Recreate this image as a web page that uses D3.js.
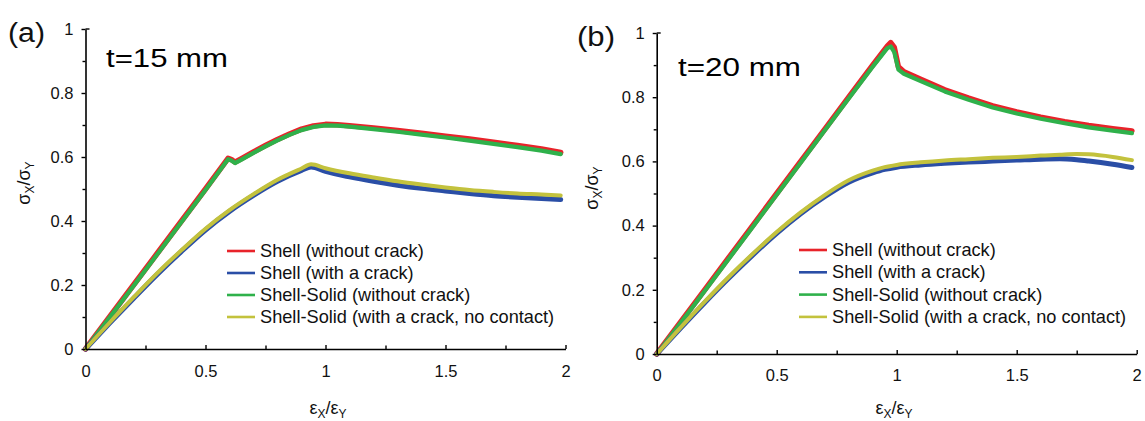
<!DOCTYPE html>
<html>
<head>
<meta charset="utf-8">
<script src="https://cdn.jsdelivr.net/npm/d3@7"></script>
<style>
html,body{margin:0;padding:0;background:#fff;}
svg{display:block;font-family:"Liberation Sans",Arial,sans-serif;}
</style>
</head>
<body>
<svg id="chart" width="1145" height="421"></svg>
<script>
// ---------- data ----------
const seriesNames = ["Shell (without crack)", "Shell (with a crack)", "Shell-Solid (without crack)", "Shell-Solid (with a crack, no contact)"];
const seriesColors = ["#e8232a", "#2a4ea6", "#2fb14b", "#c3c23d"];
const xTickValues = [0, 0.5, 1, 1.5, 2];
const xTickLabels = ["0", "0.5", "1", "1.5", "2"];
const yTickValues = [0, 0.2, 0.4, 0.6, 0.8, 1];
const yTickLabels = ["0", "0.2", "0.4", "0.6", "0.8", "1"];
const panelLetters = ["(a)", "(b)"];
const panelTitles = ["t=15 mm", "t=20 mm"];

// panel (a) t=15 mm
const a_noCrack_x = [0, 0.1, 0.2, 0.3, 0.4, 0.5, 0.594, 0.608, 0.623, 0.65, 0.7, 0.75, 0.8, 0.85, 0.9, 0.95, 1.0, 1.05, 1.1, 1.2, 1.3, 1.4, 1.5, 1.6, 1.7, 1.8, 1.9, 1.98];
const a_shell_noCrack_y = [0, 0.1, 0.2, 0.3, 0.4, 0.5, 0.596, 0.592, 0.584, 0.595, 0.616, 0.636, 0.655, 0.672, 0.687, 0.697, 0.702, 0.701, 0.698, 0.691, 0.683, 0.674, 0.665, 0.656, 0.646, 0.636, 0.625, 0.614];
const a_solid_noCrack_y = [0, 0.098, 0.197, 0.297, 0.397, 0.497, 0.593, 0.589, 0.581, 0.592, 0.613, 0.633, 0.652, 0.669, 0.684, 0.694, 0.699, 0.698, 0.695, 0.687, 0.679, 0.670, 0.661, 0.651, 0.641, 0.631, 0.620, 0.609];
const a_crack_x = [0, 0.1, 0.2, 0.3, 0.4, 0.5, 0.6, 0.7, 0.8, 0.9, 0.94, 1.0, 1.1, 1.2, 1.3, 1.4, 1.5, 1.6, 1.7, 1.8, 1.9, 1.98];
const a_shell_crack_y = [0, 0.08, 0.158, 0.234, 0.305, 0.372, 0.43, 0.48, 0.524, 0.558, 0.569, 0.555, 0.538, 0.524, 0.512, 0.502, 0.494, 0.486, 0.479, 0.474, 0.47, 0.467];
const a_solid_crack_y = [0, 0.082, 0.161, 0.238, 0.309, 0.376, 0.434, 0.484, 0.529, 0.564, 0.577, 0.565, 0.549, 0.536, 0.524, 0.514, 0.505, 0.497, 0.491, 0.486, 0.483, 0.480];

// panel (b) t=20 mm
const b_noCrack_x = [0, 0.1, 0.2, 0.3, 0.4, 0.5, 0.6, 0.7, 0.8, 0.9, 0.96, 0.975, 0.99, 1.007, 1.03, 1.1, 1.2, 1.3, 1.4, 1.5, 1.6, 1.7, 1.8, 1.9, 1.98];
const b_shell_noCrack_y = [0, 0.1, 0.2, 0.3, 0.4, 0.5, 0.6, 0.7, 0.8, 0.9, 0.958, 0.97, 0.955, 0.895, 0.879, 0.856, 0.823, 0.797, 0.773, 0.754, 0.738, 0.724, 0.712, 0.702, 0.695];
const b_solid_noCrack_y = [0, 0.097, 0.196, 0.296, 0.396, 0.496, 0.596, 0.696, 0.796, 0.895, 0.952, 0.958, 0.94, 0.886, 0.873, 0.85, 0.818, 0.792, 0.768, 0.749, 0.733, 0.719, 0.706, 0.696, 0.688];
const b_crack_x = [0, 0.1, 0.2, 0.3, 0.4, 0.5, 0.6, 0.7, 0.8, 0.9, 0.95, 1.0, 1.1, 1.2, 1.3, 1.4, 1.5, 1.6, 1.68, 1.75, 1.8, 1.9, 1.98];
const b_shell_crack_y = [0, 0.081, 0.16, 0.236, 0.308, 0.376, 0.437, 0.49, 0.535, 0.564, 0.575, 0.582, 0.589, 0.594, 0.598, 0.601, 0.604, 0.607, 0.608, 0.605, 0.601, 0.591, 0.581];
const b_solid_crack_y = [0, 0.083, 0.163, 0.24, 0.312, 0.38, 0.441, 0.495, 0.541, 0.571, 0.582, 0.589, 0.597, 0.603, 0.607, 0.611, 0.614, 0.618, 0.621, 0.623, 0.622, 0.614, 0.604];

// ---------- drawing ----------
const svg = d3.select("#chart");

const panels = [
  {
    xr: [85.5, 565.5], yr: [349, 29],
    series: [
      {x: a_noCrack_x, y: a_shell_noCrack_y, c: 0, w: 5.5, smooth: false},
      {x: a_noCrack_x, y: a_solid_noCrack_y, c: 2, w: 4.2, smooth: false},
      {x: a_crack_x, y: a_shell_crack_y, c: 1, w: 5, smooth: true},
      {x: a_crack_x, y: a_solid_crack_y, c: 3, w: 4, smooth: true}
    ],
    letter: {x: 8, y: 42, len: 37}, title: {x: 106, y: 67, len: 122},
    legend: {x1: 227, x2: 255, tx: 260, y0: 251, dy: 22},
    ylab: {x: 30, y: 183}, xlab: {x: 328, y: 414}, xTickDy: 28
  },
  {
    xr: [656.7, 1136.7], yr: [354, 33],
    series: [
      {x: b_noCrack_x, y: b_shell_noCrack_y, c: 0, w: 5.5, smooth: false},
      {x: b_noCrack_x, y: b_solid_noCrack_y, c: 2, w: 4.2, smooth: false},
      {x: b_crack_x, y: b_shell_crack_y, c: 1, w: 5, smooth: true},
      {x: b_crack_x, y: b_solid_crack_y, c: 3, w: 4, smooth: true}
    ],
    letter: {x: 577, y: 46, len: 38}, title: {x: 678, y: 76, len: 123},
    legend: {x1: 799, x2: 827, tx: 832, y0: 250, dy: 22.3},
    ylab: {x: 598, y: 188}, xlab: {x: 894, y: 414}, xTickDy: 27
  }
];

panels.forEach((p, pi) => {
  const x = d3.scaleLinear().domain([0, 2]).range(p.xr);
  const y = d3.scaleLinear().domain([0, 1]).range(p.yr);
  const g = svg.append("g");

  // curves
  const smoothLine = d3.line().curve(d3.curveMonotoneX);
  const straightLine = d3.line().curve(d3.curveLinear);
  p.series.forEach(s => {
    const pts = s.x.map((xv, i) => [x(xv), y(s.y[i])]);
    g.append("path").attr("d", (s.smooth ? smoothLine : straightLine)(pts)).attr("fill", "none")
      .attr("stroke", seriesColors[s.c]).attr("stroke-width", s.w)
      .attr("stroke-linejoin", "round").attr("stroke-linecap", "round");
  });

  // y axis
  const yAxis = d3.axisLeft(y).tickValues(yTickValues).tickFormat((d, i) => yTickLabels[i]).tickSize(4).tickSizeOuter(0).tickPadding(6);
  const ya = g.append("g").attr("transform", `translate(${p.xr[0]},0)`).call(yAxis);
  const yMinor = d3.axisLeft(y).tickValues([0.1, 0.3, 0.5, 0.7, 0.9]).tickFormat("").tickSize(3).tickSizeOuter(0);
  const ym = g.append("g").attr("transform", `translate(${p.xr[0]},0)`).call(yMinor);
  ym.select(".domain").remove();
  g.append("line").attr("x1", p.xr[0]).attr("x2", p.xr[0] + 4).attr("y1", y(1)).attr("y2", y(1)).attr("stroke", "#000").attr("stroke-width", 1.4);

  // x axis (ticks pointing up)
  const xAxis = d3.axisBottom(x).tickValues(xTickValues).tickFormat((d, i) => xTickLabels[i]).tickSize(-4).tickSizeOuter(0).tickPadding(0);
  const xa = g.append("g").attr("transform", `translate(0,${p.yr[0]})`).call(xAxis);
  const xMinor = d3.axisBottom(x).tickValues([0.25, 0.75, 1.25, 1.75]).tickFormat("").tickSize(-3.5).tickSizeOuter(0);
  const xm = g.append("g").attr("transform", `translate(0,${p.yr[0]})`).call(xMinor);
  xm.select(".domain").remove();
  xa.selectAll(".tick line").filter(d => d === 0).remove();

  [ya, xa, ym, xm].forEach(a => {
    a.selectAll("path.domain").attr("stroke", "#000").attr("stroke-width", 1.6);
    a.selectAll(".tick line").attr("stroke", "#000").attr("stroke-width", 1.4);
  });
  ya.selectAll(".tick text").attr("font-size", 16.5).attr("fill", "#111").attr("font-family", "Liberation Sans, Arial, sans-serif").attr("dx", "-2");
  xa.selectAll(".tick text").attr("font-size", 16.5).attr("fill", "#111").attr("font-family", "Liberation Sans, Arial, sans-serif")
    .attr("y", p.xTickDy).attr("dy", 0);

  // panel letter and title
  g.append("text").attr("x", p.letter.x).attr("y", p.letter.y).attr("font-size", 27).attr("fill", "#111")
    .attr("textLength", p.letter.len).attr("lengthAdjust", "spacingAndGlyphs").text(panelLetters[pi]);
  g.append("text").attr("x", p.title.x).attr("y", p.title.y).attr("font-size", 26).attr("fill", "#000")
    .attr("textLength", p.title.len).attr("lengthAdjust", "spacingAndGlyphs").text(panelTitles[pi]);

  // legend
  seriesNames.forEach((name, i) => {
    const ly = p.legend.y0 + i * p.legend.dy;
    g.append("line").attr("x1", p.legend.x1).attr("x2", p.legend.x2).attr("y1", ly).attr("y2", ly)
      .attr("stroke", seriesColors[i]).attr("stroke-width", 2.6);
    g.append("text").attr("x", p.legend.tx).attr("y", ly + 6).attr("font-size", 18.2).attr("fill", "#111").text(name);
  });

  // y label (rotated)
  const yl = g.append("text").attr("transform", `translate(${p.ylab.x},${p.ylab.y}) rotate(-90)`)
    .attr("text-anchor", "middle").attr("font-size", 18).attr("fill", "#111");
  yl.append("tspan").text("σ");
  yl.append("tspan").attr("font-size", 12).attr("dy", 4).text("X");
  yl.append("tspan").attr("dy", -4).text("/σ");
  yl.append("tspan").attr("font-size", 12).attr("dy", 4).text("Y");

  // x label
  const xl = g.append("text").attr("x", p.xlab.x).attr("y", p.xlab.y)
    .attr("text-anchor", "middle").attr("font-size", 18).attr("fill", "#111");
  xl.append("tspan").text("ε");
  xl.append("tspan").attr("font-size", 12).attr("dy", 4).text("X");
  xl.append("tspan").attr("dy", -4).text("/ε");
  xl.append("tspan").attr("font-size", 12).attr("dy", 4).text("Y");
});
</script>
</body>
</html>
